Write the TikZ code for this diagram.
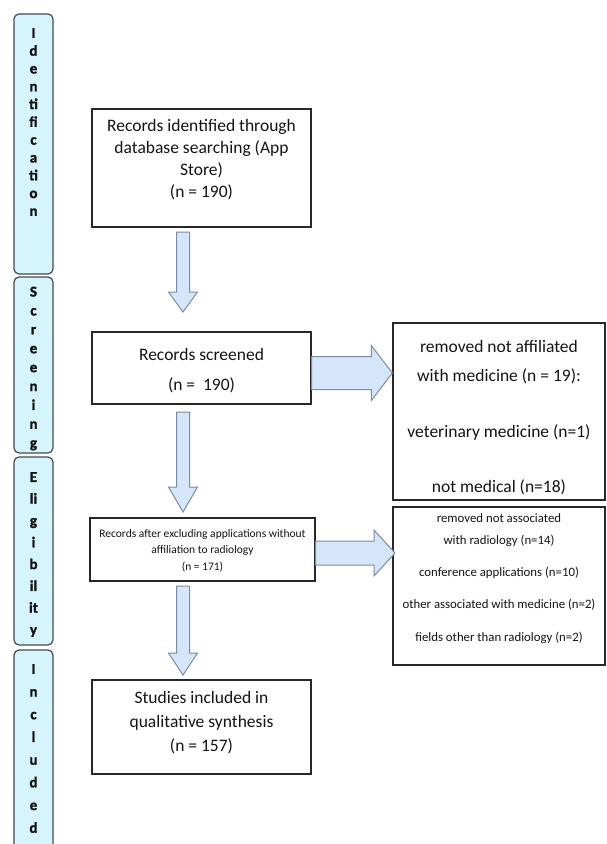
\documentclass[tikz,border=0pt]{standalone}
\usepackage{fontspec}
\setmainfont{Carlito}[BoldFont={Carlito Bold}]
\newfontfamily\phasefont{Carlito Bold}[FakeBold=1.5]
\usetikzlibrary{calc}
\definecolor{barfill}{RGB}{213,244,252}
\definecolor{barline}{RGB}{70,75,80}
\definecolor{arrfill}{RGB}{214,230,250}
\definecolor{arrline}{RGB}{125,140,160}
\definecolor{boxline}{RGB}{40,40,40}
\definecolor{txtcol}{RGB}{20,20,20}
\newcommand\myDownArrow[5]{% start, tip, headlen, shaft half, head half
  \draw[blockarr] ($(#1)+(-#4,0)$) -- ($(#2)+(-#4,-#3)$) -- ($(#2)+(-#5,-#3)$) -- (#2)
    -- ($(#2)+(#5,-#3)$) -- ($(#2)+(#4,-#3)$) -- ($(#1)+(#4,0)$) -- cycle;}
\newcommand\myRightArrow[5]{% start, tip, headlen, shaft half, head half
  \draw[blockarr] ($(#1)+(0,-#4)$) -- ($(#2)+(-#3,-#4)$) -- ($(#2)+(-#3,-#5)$) -- (#2)
    -- ($(#2)+(-#3,#5)$) -- ($(#2)+(-#3,#4)$) -- ($(#1)+(0,#4)$) -- cycle;}
\begin{document}
\begin{tikzpicture}[x=1pt,y=-1pt,
  phase/.style={draw=barline, fill=barfill, line width=1.2pt, rounded corners=5pt,
    minimum width=39pt, inner sep=0pt},
  phasetext/.style={font=\phasefont\fontsize{15}{#1}\selectfont, align=center, text=txtcol, inner sep=0pt},
  box/.style={draw=boxline, fill=white, line width=1.3pt, inner sep=0pt},
  boxtext/.style={align=center, text=txtcol, inner sep=0pt},
  blockarr/.style={draw=arrline, fill=arrfill, line width=1pt, line join=miter}]
\useasboundingbox (0,0) rectangle (607,844);
\fill[white] (0,0) rectangle (607,844);

% phase bars
\node[phase, minimum height=260pt] (pid) at (33.5,144) {};
\node[phase, minimum height=176pt] (psc) at (33.5,365) {};
\node[phase, minimum height=188pt] (pel) at (33.5,551) {};
\node[phase, minimum height=210pt] (pin) at (33.5,755) {};
\node[phasetext=17.8] (pidt) at (33.5,122) {I\\d\\e\\n\\ti\\fi\\c\\a\\ti\\o\\n};
\node[phasetext=18.9] (psct) at (33.5,368.5) {S\\c\\r\\e\\e\\n\\i\\n\\g};
\node[phasetext=21.8] (pelt) at (33.5,554.5) {E\\li\\g\\i\\b\\il\\it\\y};
\node[phasetext=22.7] (pint) at (33.5,748.5) {I\\n\\c\\l\\u\\d\\e\\d};

% boxes
\node[box, minimum width=219pt, minimum height=118pt] (b1) at (201.5,168) {};
\node[box, minimum width=219pt, minimum height=72pt] (b2) at (201.5,368) {};
\node[box, minimum width=212pt, minimum height=177pt] (b3) at (499,411.5) {};
\node[box, minimum width=212pt, minimum height=158pt] (b4) at (499,586) {};
\node[box, minimum width=225pt, minimum height=63pt] (b5) at (202.5,549.5) {};
\node[box, minimum width=219pt, minimum height=94pt] (b6) at (201.5,727) {};

\node[boxtext, font=\fontsize{17.5}{22}\selectfont] (b1t) at (201.5,160)
  {Records identified through\\database searching (App\\Store)\\(n = 190)};
\node[boxtext, font=\fontsize{17.5}{30}\selectfont] (b2t) at (201.5,371)
  {Records screened\\(n =\ \ 190)};
\node[boxtext, font=\fontsize{17.5}{29}\selectfont] (b3t) at (499,418)
  {removed not affiliated\\with medicine (n = 19):\\[27pt]veterinary medicine (n=1)\\[26pt]not medical (n=18)};
\node[boxtext, font=\fontsize{12.8}{22}\selectfont] (b4t) at (499,578.5)
  {removed not associated\\with radiology (n=14)\\[10pt]conference applications (n=10)\\[10pt]other associated with medicine (n=2)\\[11pt]fields other than radiology (n=2)};
\node[boxtext, font=\fontsize{11.5}{16.5}\selectfont] (b5t) at (202.5,550.5)
  {Records after excluding applications without\\affiliation to radiology\\(n = 171)};
\node[boxtext, font=\fontsize{17.5}{24}\selectfont] (b6t) at (201.5,723)
  {Studies included in\\qualitative synthesis\\(n = 157)};

% connectors (block arrows)
\coordinate (d1s) at (183,232);
\coordinate (d1e) at (183,312);
\coordinate (d2s) at (183,412);
\coordinate (d2e) at (183,512);
\coordinate (d3s) at (183,586);
\coordinate (d3e) at (183,675);
\coordinate (r1s) at (b2.east |- 0,373);
\coordinate (r1e) at (b3.west |- 0,373);
\coordinate (r2s) at (b5.east |- 0,553);
\coordinate (r2e) at (395,553);
\myDownArrow{d1s}{d1e}{20}{6.5}{14.5}
\myDownArrow{d2s}{d2e}{25}{6.5}{14.5}
\myDownArrow{d3s}{d3e}{22}{6.5}{14.5}
\myRightArrow{r1s}{r1e}{21}{16.5}{27.5}
\myRightArrow{r2s}{r2e}{21}{12}{23}
\end{tikzpicture}
\end{document}
